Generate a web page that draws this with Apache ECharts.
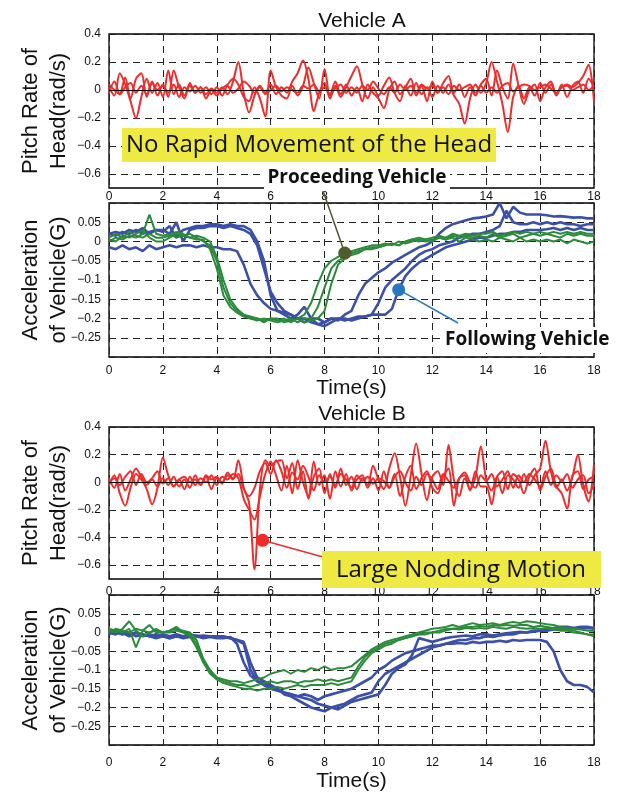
<!DOCTYPE html>
<html>
<head>
<meta charset="utf-8">
<script src="https://cdn.jsdelivr.net/npm/echarts@6/dist/echarts.min.js"></script>
<style>
html,body{margin:0;padding:0;background:#fff;}
#main{width:619px;height:793px;}
</style>
</head>
<body>
<div id="main"></div>
<script>
// time step of each record (s)
var pitchStep = 0.2;
var accelStep = 0.25;

var pitchTicks = [-0.6, -0.4, -0.2, 0, 0.2, 0.4];

// Vehicle A - pitch rate of head (rad/s)
var pitchA1 = [
  0.02, -0.04, 0.12, 0.04, -0.08, -0.2, -0.05, 0.08, -0.02, 0.05,
  -0.05, 0.14, -0.03, 0.04, -0.04, 0.03, -0.02, 0.02, -0.03, 0.01,
  -0.02, 0.02, -0.03, 0.06, 0.2, -0.02, -0.16, -0.04, 0.03, -0.02,
  0.04, -0.03, 0.02, -0.02, 0.06, 0.12, 0.21, 0.08, -0.15, -0.02,
  0.05, -0.06, 0.03, -0.05, 0.02, 0.1, 0.17, 0.04, -0.06, 0.02,
  -0.04, 0.03, 0.09, -0.02, -0.08, 0.03, -0.04, 0.05, -0.03, 0.02,
  -0.05, 0.03, -0.02, 0.04, -0.04, -0.1, -0.24, -0.06, 0.04, -0.02,
  0.05, 0.2, 0.06, -0.1, -0.3, -0.05, 0.03, -0.06, 0.02, -0.04,
  0.05, -0.02, 0.04, -0.03, 0.02, 0.04, 0.02, 0.05, 0.1, 0.18,
  -0.08
];
var pitchA2 = [
  -0.02, 0.06, -0.03, 0.09, -0.06, 0.08, 0.12, -0.05, 0.06, -0.04,
  0.04, -0.05, 0.14, 0.02, -0.06, 0.05, -0.02, 0.02, -0.06, 0.0,
  -0.04, 0.01, 0.04, 0.08, 0.04, -0.05, -0.08, 0.02, -0.06, -0.19,
  0.14, 0.02, -0.04, -0.06, 0.03, -0.04, 0.03, 0.16, 0.05, -0.06,
  0.15, -0.04, 0.06, -0.03, 0.04, -0.04, 0.02, -0.08, 0.04, -0.02,
  -0.06, -0.13, 0.0, 0.06, -0.03, 0.02, 0.08, -0.04, 0.03, -0.08,
  0.06, -0.02, 0.05, 0.1, -0.02, 0.04, -0.05, 0.02, -0.04, 0.04,
  0.08, -0.04, 0.14, 0.02, -0.06, 0.19, 0.03, -0.1, 0.0, 0.04,
  -0.08, 0.02, 0.06, -0.04, 0.04, -0.05, 0.03, 0.06, -0.02, 0.08,
  0.02
];
var pitchA3 = [
  0.04, 0.0, -0.03, 0.02, 0.05, -0.02, 0.03, -0.03, 0.05, 0.0,
  0.03, -0.02, 0.04, -0.05, 0.02, -0.01, 0.03, -0.02, 0.02, -0.03,
  0.02, -0.04, 0.03, -0.02, 0.01, 0.06, 0.03, -0.02, 0.02, -0.03,
  0.0, 0.03, -0.01, 0.02, 0.0, -0.02, 0.03, 0.01, 0.04, -0.01,
  0.02, -0.03, 0.01, 0.04, -0.02, 0.02, -0.02, 0.03, 0.0, 0.06,
  0.01, -0.03, 0.02, -0.02, 0.04, 0.0, 0.03, -0.02, 0.04, 0.01,
  0.03, -0.02, 0.02, -0.03, 0.03, 0.0, 0.02, 0.04, -0.02, 0.03,
  -0.02, 0.02, -0.02, 0.03, 0.05, -0.01, 0.02, 0.04, 0.03, 0.0,
  0.02, 0.04, 0.01, -0.02, 0.02, 0.03, 0.0, 0.02, 0.04, 0.0,
  0.03
];

// Vehicle B - pitch rate of head (rad/s)
var pitchB1 = [
  0.03, -0.04, 0.06, -0.06, 0.02, 0.1, 0.04, -0.02, 0.02, -0.03,
  0.03, -0.02, 0.04, -0.03, 0.02, -0.04, 0.05, -0.02, 0.04, -0.05,
  0.03, 0.0, 0.05, 0.02, 0.16, -0.04, -0.15, -0.63, -0.05, 0.16,
  0.12, 0.15, 0.16, 0.03, 0.14, -0.05, 0.08, -0.12, 0.04, 0.1,
  -0.08, 0.06, -0.04, 0.1, -0.02, 0.04, -0.05, 0.03, -0.02, 0.12,
  0.02, -0.05, 0.1, 0.21, 0.04, -0.17, 0.05, 0.28, 0.06, -0.13,
  0.04, 0.08, -0.02, 0.27, 0.02, -0.1, 0.03, -0.05, 0.04, 0.26,
  0.02, -0.06, 0.04, -0.08, 0.05, 0.02, -0.04, 0.06, -0.02, 0.05,
  0.1, 0.3, 0.08, -0.04, 0.02, -0.06, 0.04, 0.2, -0.02, -0.14,
  0.13
];
var pitchB2 = [
  -0.02, 0.05, -0.08, -0.17, -0.04, 0.06, 0.02, -0.05, -0.16, -0.04,
  0.18, 0.05, -0.03, 0.02, -0.05, 0.04, -0.02, 0.03, 0.0, 0.05,
  -0.02, 0.04, 0.02, 0.06, 0.03, -0.12, -0.2, -0.27, -0.1, 0.06,
  0.15, 0.05, -0.06, 0.12, -0.08, 0.16, 0.0, -0.1, 0.15, -0.02,
  0.05, -0.12, 0.08, -0.03, 0.06, -0.06, 0.02, 0.05, -0.04, 0.03,
  -0.06, 0.08, -0.04, 0.06, -0.1, 0.04, 0.12, -0.05, 0.03, 0.08,
  -0.04, -0.08, 0.04, 0.1, -0.17, 0.03, 0.05, -0.06, 0.08, -0.03,
  -0.03, -0.16, 0.04, 0.08, -0.05, 0.06, 0.02, -0.08, 0.04, 0.1,
  -0.06, 0.04, 0.1, -0.03, -0.08, -0.19, 0.05, 0.08, -0.05, 0.02,
  0.04
];
var pitchB3 = [
  0.0, 0.03, -0.02, 0.04, 0.08, -0.02, 0.06, 0.0, 0.03, 0.08,
  -0.01, 0.03, -0.03, 0.02, 0.04, 0.0, 0.02, -0.02, 0.05, 0.02,
  0.04, -0.01, 0.07, 0.03, 0.06, -0.05, -0.1, -0.04, 0.08, 0.14,
  0.06, 0.16, 0.08, -0.04, 0.07, 0.02, 0.12, 0.04, -0.06, 0.05,
  0.0, 0.04, -0.02, 0.06, 0.02, -0.04, 0.05, 0.01, 0.04, -0.01,
  0.03, 0.01, -0.04, 0.04, 0.08, 0.0, -0.06, 0.04, -0.02, 0.06,
  0.02, -0.05, 0.06, 0.01, -0.04, 0.03, 0.07, 0.0, -0.04, 0.05,
  0.01, 0.06, -0.03, 0.02, 0.08, -0.04, 0.05, 0.0, 0.06, 0.02,
  -0.03, 0.08, -0.02, 0.05, 0.01, 0.06, -0.04, 0.02, 0.05, -0.08,
  -0.02
];

// Vehicle A - acceleration (G), following vehicle (blue)
var accelA_follow1 = [
  0.02, 0.015, 0.025, 0.02, 0.03, 0.02, 0.025, 0.03,
  0.025, 0.04, 0.01, 0.03, 0.035, 0.04, 0.04, 0.045,
  0.045, 0.04, 0.045, 0.04, 0.04, 0.03, 0.0, -0.05,
  -0.14, -0.18, -0.19, -0.2, -0.19, -0.17, -0.2, -0.2,
  -0.21, -0.2, -0.205, -0.19, -0.18, -0.14, -0.11, -0.095,
  -0.08, -0.07, -0.055, -0.045, -0.035, -0.025, -0.015, -0.01,
  0.0, 0.02, 0.035, 0.045, 0.05, 0.055, 0.06, 0.062,
  0.065, 0.07, 0.1, 0.06, 0.09, 0.075, 0.07, 0.07,
  0.07, 0.068, 0.065, 0.066, 0.064, 0.062, 0.063, 0.06,
  0.06
];
var accelA_follow2 = [
  0.02, 0.025, 0.02, 0.03, 0.025, 0.035, 0.02, 0.03,
  0.03, 0.02, 0.05, 0.0, 0.03, 0.035, 0.035, 0.04,
  0.04, 0.035, 0.04, 0.035, 0.03, 0.02, -0.01, -0.07,
  -0.13, -0.16, -0.18, -0.19, -0.2, -0.21, -0.2, -0.215,
  -0.22, -0.21, -0.2, -0.2, -0.205, -0.2, -0.195, -0.19,
  -0.16, -0.12, -0.1, -0.085, -0.07, -0.05, -0.035, -0.025,
  -0.02, -0.01, -0.005, 0.0, 0.01, 0.015, 0.02, 0.02,
  0.025, 0.03, 0.04, 0.08, 0.05, 0.045, 0.045, 0.05,
  0.045, 0.05, 0.045, 0.05, 0.045, 0.045, 0.04, 0.045,
  0.045
];
var accelA_follow3 = [
  -0.015, -0.02, -0.01, -0.02, -0.015, -0.025, -0.01, -0.02,
  -0.015, -0.01, -0.015, -0.01, -0.01, -0.015, -0.01, -0.015,
  -0.015, -0.02, -0.02, -0.025, -0.06, -0.11, -0.14, -0.16,
  -0.175, -0.18, -0.185, -0.19, -0.2, -0.2, -0.21, -0.215,
  -0.21, -0.2, -0.2, -0.205, -0.2, -0.195, -0.195, -0.19,
  -0.19, -0.19, -0.175, -0.125, -0.09, -0.07, -0.055, -0.045,
  -0.035, -0.025, -0.015, -0.01, -0.005, 0.0, 0.005, 0.01,
  0.01, 0.015, 0.02, 0.02, 0.025, 0.025, 0.03, 0.03,
  0.03, 0.032, 0.035, 0.03, 0.035, 0.03, 0.035, 0.03,
  0.03
];
// Vehicle A - acceleration (G), proceeding vehicle (green)
var accelA_proc1 = [
  0.0, 0.01, 0.005, 0.015, 0.01, 0.02, 0.07, 0.02,
  0.015, 0.02, 0.01, 0.015, 0.01, 0.005, 0.005, -0.02,
  -0.07, -0.14, -0.17, -0.185, -0.195, -0.2, -0.2, -0.205,
  -0.2, -0.205, -0.2, -0.21, -0.2, -0.19, -0.16, -0.11,
  -0.07, -0.05, -0.04, -0.03, -0.025, -0.02, -0.015, -0.01,
  -0.01, -0.005, -0.01, 0.0, -0.005, 0.0, 0.005, 0.0,
  0.005, 0.01, 0.005, 0.015, 0.01, 0.015, 0.01, 0.015,
  0.01, 0.02, 0.01, 0.015, 0.02, 0.01, 0.015, 0.02,
  0.015, 0.02, 0.015, 0.01, 0.02, 0.015, 0.02, 0.015,
  0.015
];
var accelA_proc2 = [
  0.005, 0.0, 0.015, 0.01, 0.02, 0.03, 0.01, 0.0,
  0.0, 0.01, 0.02, 0.015, 0.02, 0.01, 0.0, -0.01,
  -0.05, -0.12, -0.16, -0.18, -0.19, -0.2, -0.205, -0.2,
  -0.205, -0.21, -0.205, -0.2, -0.21, -0.2, -0.2, -0.17,
  -0.12, -0.07, -0.05, -0.04, -0.03, -0.025, -0.02, -0.015,
  -0.015, -0.01, -0.005, -0.01, 0.0, 0.005, 0.0, 0.005,
  0.0, 0.01, 0.005, 0.01, 0.0, 0.01, 0.005, 0.0,
  0.005, 0.0, 0.01, 0.005, 0.0, 0.01, 0.0, 0.005,
  0.0, 0.005, 0.0, 0.005, -0.005, 0.005, 0.0, -0.005,
  0.0
];
var accelA_proc3 = [
  0.01, 0.02, 0.01, 0.025, 0.015, 0.01, 0.02, 0.01,
  0.01, 0.015, 0.025, 0.02, 0.01, 0.015, 0.01, 0.0,
  -0.04, -0.1, -0.15, -0.175, -0.19, -0.195, -0.2, -0.21,
  -0.2, -0.2, -0.21, -0.205, -0.2, -0.21, -0.205, -0.2,
  -0.18, -0.11, -0.06, -0.045, -0.035, -0.03, -0.02, -0.02,
  -0.015, -0.01, -0.005, -0.01, 0.0, 0.005, 0.01, 0.005,
  0.01, 0.015, 0.01, 0.02, 0.015, 0.02, 0.015, 0.02,
  0.02, 0.025, 0.015, 0.02, 0.025, 0.02, 0.025, 0.02,
  0.025, 0.02, 0.025, 0.02, 0.025, 0.02, 0.025, 0.02,
  0.02
];

// Vehicle B - acceleration (G), following vehicle (blue)
var accelB_follow1 = [
  0.0, -0.005, 0.005, -0.005, 0.0, -0.01, -0.005, -0.01,
  -0.005, -0.01, -0.005, -0.01, -0.005, -0.01, -0.008, -0.01,
  -0.01, -0.012, -0.015, -0.02, -0.03, -0.1, -0.13, -0.135,
  -0.145, -0.15, -0.16, -0.165, -0.17, -0.175, -0.18, -0.19,
  -0.195, -0.2, -0.195, -0.19, -0.18, -0.17, -0.165, -0.16,
  -0.13, -0.11, -0.1, -0.09, -0.08, -0.07, -0.06, -0.05,
  -0.04, -0.035, -0.03, -0.025, -0.02, -0.02, -0.015, -0.015,
  -0.01, -0.012, -0.008, -0.005, -0.005, 0.0, 0.0, 0.002,
  0.005, 0.005, 0.008, 0.01, 0.01, 0.012, 0.01, 0.012,
  0.01
];
var accelB_follow2 = [
  -0.005, 0.005, 0.0, -0.01, 0.0, -0.005, -0.01, -0.005,
  -0.01, -0.015, -0.01, -0.012, -0.01, -0.008, -0.012, -0.01,
  -0.01, -0.01, -0.015, -0.02, -0.025, -0.08, -0.12, -0.13,
  -0.14, -0.15, -0.165, -0.17, -0.18, -0.19, -0.2, -0.205,
  -0.21, -0.2, -0.205, -0.195, -0.185, -0.18, -0.175, -0.17,
  -0.165, -0.14, -0.11, -0.095, -0.085, -0.06, -0.015, -0.02,
  -0.025, -0.02, -0.015, -0.012, -0.01, -0.008, -0.01, -0.005,
  -0.005, -0.008, -0.005, -0.002, 0.0, 0.002, 0.0, 0.005,
  0.005, 0.01, 0.012, 0.015, 0.015, 0.012, 0.015, 0.015,
  0.012
];
var accelB_follow3 = [
  0.005, 0.0, -0.005, 0.0, -0.01, -0.005, -0.01, -0.015,
  -0.01, -0.015, -0.01, -0.015, -0.012, -0.01, -0.015, -0.012,
  -0.015, -0.015, -0.012, -0.03, -0.08, -0.115, -0.13, -0.14,
  -0.15, -0.155, -0.16, -0.165, -0.17, -0.165, -0.17, -0.18,
  -0.17, -0.165, -0.16, -0.155, -0.15, -0.14, -0.13, -0.12,
  -0.1, -0.09, -0.075, -0.065, -0.055, -0.05, -0.045, -0.04,
  -0.035, -0.035, -0.03, -0.03, -0.028, -0.03, -0.025, -0.028,
  -0.025, -0.025, -0.022, -0.025, -0.02, -0.022, -0.02, -0.02,
  -0.02, -0.025, -0.05, -0.1, -0.13, -0.14, -0.14, -0.145,
  -0.16
];
// Vehicle B - acceleration (G), proceeding vehicle (green)
var accelB_proc1 = [
  0.005, 0.0, 0.01, 0.03, 0.005, -0.01, 0.0, 0.005,
  0.0, 0.005, 0.01, 0.005, 0.0, -0.02, -0.07, -0.1,
  -0.12, -0.125, -0.13, -0.13, -0.135, -0.13, -0.125, -0.12,
  -0.11, -0.105, -0.1, -0.11, -0.1, -0.105, -0.095, -0.1,
  -0.09, -0.1, -0.095, -0.095, -0.09, -0.075, -0.06, -0.045,
  -0.035, -0.025, -0.02, -0.015, -0.01, -0.005, 0.0, 0.005,
  0.01, 0.012, 0.015, 0.02, 0.015, 0.02, 0.025, 0.02,
  0.022, 0.025, 0.02, 0.025, 0.028, 0.025, 0.03, 0.028,
  0.025, 0.022, 0.02, 0.015, 0.012, 0.01, 0.008, 0.005,
  0.005
];
var accelB_proc2 = [
  0.01, 0.005, 0.0, 0.01, -0.04, 0.005, 0.02, 0.0,
  0.0, 0.0, 0.005, 0.0, -0.005, -0.03, -0.075, -0.105,
  -0.12, -0.13, -0.135, -0.14, -0.14, -0.145, -0.14, -0.135,
  -0.13, -0.135, -0.13, -0.13, -0.135, -0.13, -0.13, -0.125,
  -0.13, -0.125, -0.13, -0.125, -0.12, -0.09, -0.065, -0.05,
  -0.04, -0.03, -0.025, -0.02, -0.015, -0.01, -0.005, 0.0,
  0.0, 0.005, 0.01, 0.01, 0.012, 0.015, 0.015, 0.018,
  0.015, 0.02, 0.018, 0.02, 0.018, 0.02, 0.02, 0.015,
  0.018, 0.015, 0.012, 0.01, 0.008, 0.005, 0.0, -0.005,
  -0.01
];
var accelB_proc3 = [
  0.0, 0.01, 0.005, 0.0, 0.01, 0.005, 0.0, 0.01,
  0.0, 0.005, 0.015, 0.0, -0.01, -0.04, -0.08, -0.11,
  -0.125, -0.135, -0.14, -0.145, -0.15, -0.15, -0.155, -0.15,
  -0.15, -0.145, -0.15, -0.145, -0.14, -0.145, -0.14, -0.14,
  -0.14, -0.135, -0.14, -0.135, -0.13, -0.1, -0.075, -0.055,
  -0.045, -0.035, -0.03, -0.02, -0.015, -0.01, -0.005, -0.005,
  0.0, 0.0, 0.005, 0.01, 0.008, 0.012, 0.01, 0.012,
  0.01, 0.015, 0.012, 0.01, 0.015, 0.012, 0.01, 0.012,
  0.01, 0.012, 0.008, 0.005, 0.005, 0.0, -0.002, -0.005,
  -0.005
];

var RED = '#ee2c2c', BLUE = '#3b50a6', GREEN = '#2b8b3b';
var tickFont = '"Liberation Sans Narrow", "Liberation Sans", sans-serif';
var textFont = '"Liberation Sans", Arial, sans-serif';
var noteFont = '"Open Sans", "Noto Sans", sans-serif';

function accelFmt(v){
  var r = Math.round(v * 100) / 100;
  if (r <= -0.3 || r >= 0.1) return '';
  if (r === 0) return '0';
  return (r < 0 ? '\u2212' : '') + Math.abs(r);
}
function pitchFmt(v){
  var r = Math.round(v * 10) / 10;
  if (r === 0) return '0';
  return (r < 0 ? '\u2212' : '') + Math.abs(r);
}
function toPairs(vals, step){
  return vals.map(function(v, i){ return [Math.round(i * step * 100) / 100, v]; });
}
function line(vals, step, idx, color, width, smooth){
  return {
    type: 'line', xAxisIndex: idx, yAxisIndex: idx,
    data: toPairs(vals, step), showSymbol: false, smooth: smooth,
    lineStyle: {color: color, width: width}, itemStyle: {color: color},
    silent: true, z: 3
  };
}

var dash = {show: true, lineStyle: {color: '#222', type: [7, 5], width: 1}};
var gridBase = {left: 109, width: 485, show: true, borderColor: '#000', borderWidth: 1.3, backgroundColor: 'transparent'};

function xAx(i, margin, nameGap){
  return {
    type: 'value', gridIndex: i, min: 0, max: 18, interval: 2,
    axisLine: {show: false}, axisTick: {show: false},
    axisLabel: {margin: margin, fontSize: 12, color: '#111', fontFamily: tickFont},
    splitLine: dash,
    name: nameGap ? 'Time(s)' : '', nameLocation: 'middle', nameGap: nameGap || 20,
    nameMoveOverlap: false,
    nameTextStyle: {fontSize: 21, color: '#111', fontFamily: textFont}
  };
}
function pitchY(i){
  return {
    type: 'value', gridIndex: i, min: -0.7, max: 0.4,
    axisLine: {show: false},
    axisTick: {show: false, customValues: pitchTicks},
    axisLabel: {customValues: pitchTicks, formatter: pitchFmt, margin: 8, fontSize: 12, color: '#111', fontFamily: tickFont},
    splitLine: dash,
    name: 'Pitch Rate of\nHead(rad/s)', nameLocation: 'middle', nameGap: 36, nameRotate: 90,
    nameMoveOverlap: false,
    nameTextStyle: {fontSize: 22, lineHeight: 28, color: '#111', fontFamily: textFont}
  };
}
function accelY(i){
  return {
    type: 'value', gridIndex: i, min: -0.3, max: 0.1, interval: 0.05,
    axisLine: {show: false}, axisTick: {show: false},
    axisLabel: {formatter: accelFmt, margin: 8, fontSize: 12, color: '#111', fontFamily: tickFont, showMinLabel: true, showMaxLabel: true},
    splitLine: dash,
    name: 'Acceleration\nof Vehicle(G)', nameLocation: 'middle', nameGap: 36, nameRotate: 90,
    nameMoveOverlap: false,
    nameTextStyle: {fontSize: 22, lineHeight: 28, color: '#111', fontFamily: textFont}
  };
}

var zeroLine = {
  silent: true, symbol: 'none', label: {show: false},
  lineStyle: {color: '#000', type: 'solid', width: 1.2},
  data: [{yAxis: 0}]
};

var series = [
  line(pitchA1, pitchStep, 0, RED, 2, 0.3),
  line(pitchA2, pitchStep, 0, RED, 2, 0.3),
  line(pitchA3, pitchStep, 0, RED, 2, 0.3),
  line(accelA_follow1, accelStep, 1, BLUE, 2.6, false),
  line(accelA_follow2, accelStep, 1, BLUE, 2.6, false),
  line(accelA_follow3, accelStep, 1, BLUE, 2.6, false),
  line(accelA_proc1, accelStep, 1, GREEN, 2, false),
  line(accelA_proc2, accelStep, 1, GREEN, 2, false),
  line(accelA_proc3, accelStep, 1, GREEN, 2, false),
  line(pitchB1, pitchStep, 2, RED, 2, 0.3),
  line(pitchB2, pitchStep, 2, RED, 2, 0.3),
  line(pitchB3, pitchStep, 2, RED, 2, 0.3),
  line(accelB_follow1, accelStep, 3, BLUE, 2.6, false),
  line(accelB_follow2, accelStep, 3, BLUE, 2.6, false),
  line(accelB_follow3, accelStep, 3, BLUE, 2.6, false),
  line(accelB_proc1, accelStep, 3, GREEN, 2, false),
  line(accelB_proc2, accelStep, 3, GREEN, 2, false),
  line(accelB_proc3, accelStep, 3, GREEN, 2, false)
];
series[0].markLine = zeroLine;
series[9].markLine = zeroLine;

var chart = echarts.init(document.getElementById('main'), null, {renderer: 'canvas'});
chart.setOption({
  animation: false,
  backgroundColor: '#fff',
  title: [
    {text: 'Vehicle A', left: 357, top: 6, textAlign: 'center', textStyle: {fontSize: 21, fontWeight: 'normal', color: '#111', fontFamily: textFont}},
    {text: 'Vehicle B', left: 357, top: 399, textAlign: 'center', textStyle: {fontSize: 21, fontWeight: 'normal', color: '#111', fontFamily: textFont}}
  ],
  grid: [
    Object.assign({top: 34, height: 154}, gridBase),
    Object.assign({top: 203, height: 154}, gridBase),
    Object.assign({top: 427, height: 152}, gridBase),
    Object.assign({top: 595, height: 153}, gridBase)
  ],
  xAxis: [xAx(0, 3, 0), xAx(1, 8, 21), xAx(2, 7, 0), xAx(3, 12, 26)],
  yAxis: [pitchY(0), accelY(1), pitchY(2), accelY(3)],
  series: series
});

// callout markers, anchored on the curves
var pProc = chart.convertToPixel({gridIndex: 1}, [35 * accelStep, accelA_proc1[35]]);
var pFoll = chart.convertToPixel({gridIndex: 1}, [43 * accelStep, accelA_follow3[43]]);
var pNod = chart.convertToPixel({gridIndex: 2}, [5.7, -0.42]);

chart.setOption({
  graphic: [
    {type: 'rect', z: 50, shape: {x: 122, y: 128, width: 374, height: 34}, style: {fill: '#efea43'}},
    {type: 'text', z: 51, x: 309, y: 145, style: {text: 'No Rapid Movement of the Head', font: '24px ' + noteFont, fill: '#111', align: 'center', verticalAlign: 'middle'}},

    {type: 'line', z: 50, shape: {x1: 322, y1: 188, x2: pProc[0], y2: pProc[1]}, style: {stroke: '#4e5630', lineWidth: 1.5}},
    {type: 'circle', z: 52, shape: {cx: pProc[0], cy: pProc[1], r: 6.5}, style: {fill: '#4f5a2e'}},
    {type: 'rect', z: 50, shape: {x: 264, y: 166, width: 186, height: 25}, style: {fill: '#fff'}},
    {type: 'text', z: 51, x: 357, y: 178, style: {text: 'Proceeding Vehicle', font: 'bold 19px ' + noteFont, fill: '#111', align: 'center', verticalAlign: 'middle'}},

    {type: 'line', z: 50, shape: {x1: pFoll[0], y1: pFoll[1], x2: 458, y2: 323}, style: {stroke: '#2878c0', lineWidth: 1.5}},
    {type: 'circle', z: 52, shape: {cx: pFoll[0], cy: pFoll[1], r: 6.5}, style: {fill: '#2878c0'}},
    {type: 'rect', z: 50, shape: {x: 440, y: 327, width: 179, height: 26}, style: {fill: '#fff'}},
    {type: 'text', z: 51, x: 445, y: 340, style: {text: 'Following Vehicle', font: 'bold 19px ' + noteFont, fill: '#111', align: 'left', verticalAlign: 'middle'}},

    {type: 'line', z: 50, shape: {x1: pNod[0], y1: pNod[1], x2: 323, y2: 557}, style: {stroke: RED, lineWidth: 1.5}},
    {type: 'circle', z: 52, shape: {cx: pNod[0], cy: pNod[1], r: 6.5}, style: {fill: RED}},
    {type: 'rect', z: 50, shape: {x: 322, y: 551, width: 279, height: 37}, style: {fill: '#efea43'}},
    {type: 'text', z: 51, x: 461, y: 570, style: {text: 'Large Nodding Motion', font: '24px ' + noteFont, fill: '#111', align: 'center', verticalAlign: 'middle'}}
  ]
});
</script>
</body>
</html>
